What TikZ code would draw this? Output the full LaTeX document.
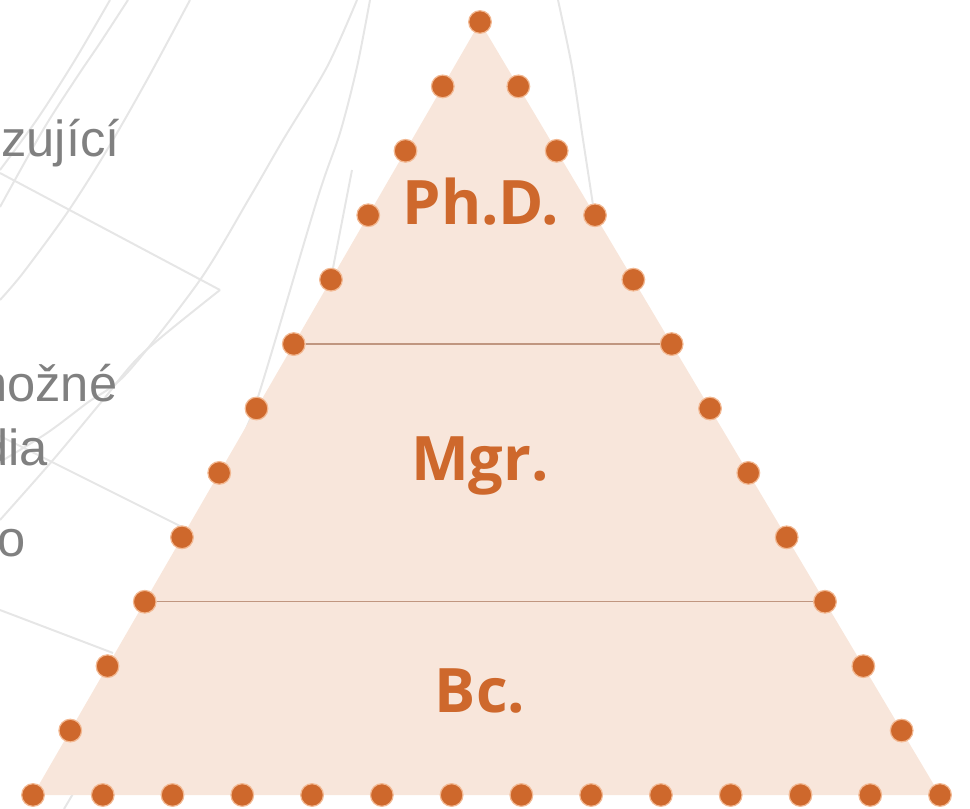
\documentclass[tikz,border=0pt]{standalone}
\usepackage{fontspec}
\setmainfont{Liberation Sans}
\newfontfamily\degfont{Open Sans}
\usepackage{tikz}
\usetikzlibrary{calc}
\definecolor{dotorange}{RGB}{206,104,44}
\definecolor{pyrfill}{RGB}{248,230,219}
\definecolor{halo}{RGB}{242,184,146}
\definecolor{divider}{RGB}{192,150,128}
\definecolor{mapline}{RGB}{230,230,230}
\definecolor{sidetext}{RGB}{128,128,128}

\begin{document}
\begin{tikzpicture}[
x=0.75pt, y=-0.75pt,
BgLine/.style={draw=mapline, line width=1.5pt},
Pyramid/.style={fill=pyrfill},
Divider/.style={draw=divider, line width=1pt},
EdgeDot/.style={circle, fill=dotorange, draw=halo, line width=0.9pt, inner sep=0pt, minimum size=17pt},
Degree/.style={text=dotorange, font=\degfont\bfseries\fontsize{46}{52}\selectfont, anchor=base},
SideText/.style={text=sidetext, font=\fontsize{38}{46}\selectfont, anchor=base west, inner sep=0pt}
]

\useasboundingbox (0,0) rectangle (970,809);
\clip (0,0) rectangle (970,809);

% faint map lines in the background
\draw[BgLine] plot[smooth] coordinates {(110,0) (75,60) (38,118) (0,170)};
\draw[BgLine] plot[smooth] coordinates {(128,0) (100,43) (77,77) (43,130) (0,207)};
\draw[BgLine] plot[smooth] coordinates {(190,0) (147,80) (107,150) (67,213) (23,273) (0,300)};
\draw[BgLine] (0,173) -- (220,290);
\draw[BgLine] plot[smooth] coordinates {(220,290) (143,353) (103,400) (53,460) (0,520)};
\draw[BgLine] plot[smooth] coordinates {(357,0) (327,67) (283,140) (250,197) (200,280) (127,373) (87,403) (47,433) (0,462)};
\draw[BgLine] plot[smooth] coordinates {(370,0) (357,67) (340,133) (317,200) (257,400) (235,450)};
\draw[BgLine] (352,170) -- (333,268);
\draw[BgLine] (0,436) -- (182,527);
\draw[BgLine] (0,610) -- (113,653);
\draw[BgLine] (64,809) -- (90,765);
\draw[BgLine] plot[smooth] coordinates {(558,0) (572,67) (582,133) (593,205) (598,240)};

% corners of the pyramid
\coordinate (Apex) at (480,22);
\coordinate (BL) at (33,795);
\coordinate (BR) at (940,795);

\fill[Pyramid] (Apex) -- (BL) -- (BR) -- cycle;

% dots along the edges
\node[EdgeDot] (A) at (Apex) {};
\foreach \i in {1,...,12}{
  \node[EdgeDot] (L\i) at ($(Apex)!\i/12!(BL)$) {};
  \node[EdgeDot] (R\i) at ($(Apex)!\i/12!(BR)$) {};
  \node[EdgeDot] (B\i) at ($(BL)!\i/13!(BR)$) {};
}

\draw[Divider] (L5) -- (R5);
\draw[Divider] (L9) -- (R9);

\node[Degree] (phd) at (481,224) {Ph.D.};
\node[Degree] (mgr) at (480,480) {Mgr.};
\node[Degree] (bc) at (480,712) {Bc.};

% cut-off text on the left
\node[SideText] (navaz) at (1,157) {zující};
\node[SideText] (mozne) at (-35,401) {možné};
\node[SideText] (studia) at (-20,465) {dia};
\node[SideText] (konec) at (-3,556) {o};

\end{tikzpicture}
\end{document}
